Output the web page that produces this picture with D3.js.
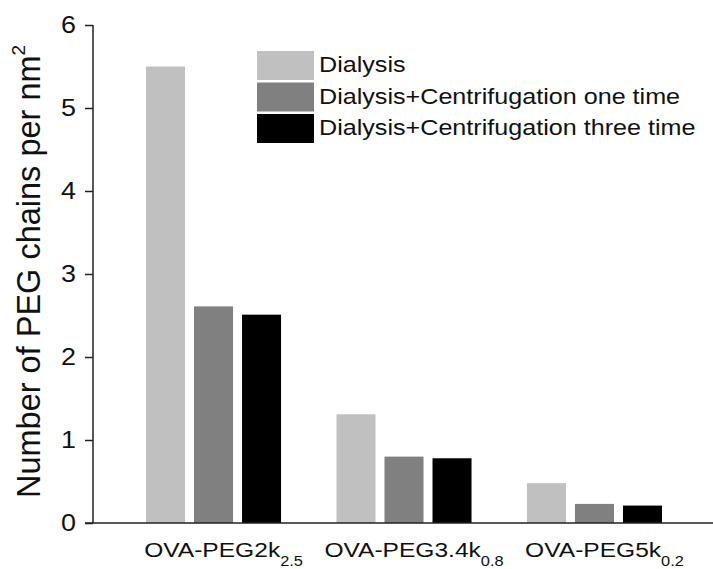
<!DOCTYPE html>
<html>
<head>
<meta charset="utf-8">
<script src="https://cdn.jsdelivr.net/npm/d3@7"></script>
<style>
  body { margin: 0; background: #fff; }
  svg { display: block; font-family: Arial, "Liberation Sans", sans-serif; }
</style>
</head>
<body>
<svg></svg>
<script>
// data
var groups = ["OVA-PEG2k", "OVA-PEG3.4k", "OVA-PEG5k"];
var groupSubs = ["2.5", "0.8", "0.2"];
var series = ["Dialysis", "Dialysis+Centrifugation one time", "Dialysis+Centrifugation three time"];
var dialysis = [5.50, 1.31, 0.48];
var centOnce = [2.61, 0.80, 0.23];
var centThree = [2.51, 0.78, 0.21];
var colors = ["#c0c0c0", "#808080", "#000000"];
var yTicks = [0, 1, 2, 3, 4, 5, 6];

var width = 713, height = 569;
var sx = 1.17; // the original text looks a bit wide, stretch it
var svg = d3.select("svg").attr("width", width).attr("height", height);

var values = [dialysis, centOnce, centThree];

// scales
var yScale = d3.scaleLinear().domain([0, 6]).range([523, 25]);

var x0 = d3.scaleBand()
    .domain(groups)
    .range([118, 690])
    .paddingInner(0.291)
    .paddingOuter(0.147);

var x1 = d3.scaleBand()
    .domain(series)
    .range([0, x0.bandwidth()])
    .paddingInner(0.1875)
    .paddingOuter(0);

// bars
var g = svg.selectAll("g.group")
    .data(groups)
    .enter()
    .append("g")
    .attr("class", "group")
    .attr("transform", function(d) { return "translate(" + x0(d) + ",0)"; });

g.selectAll("rect")
    .data(function(d, i) {
        return series.map(function(s, j) { return { s: s, v: values[j][i], c: colors[j] }; });
    })
    .enter()
    .append("rect")
    .attr("x", function(d) { return x1(d.s); })
    .attr("y", function(d) { return yScale(d.v); })
    .attr("width", x1.bandwidth())
    .attr("height", function(d) { return yScale(0) - yScale(d.v); })
    .attr("fill", function(d) { return d.c; });

// y axis
var yAxis = d3.axisLeft(yScale)
    .tickValues(yTicks)
    .tickFormat(d3.format("d"))
    .tickSize(8)
    .tickPadding(6.5);

var ya = svg.append("g")
    .attr("transform", "translate(93,0)")
    .call(yAxis);
ya.select(".domain").attr("d", "M0," + yScale(6) + "V" + yScale(0));
ya.selectAll("line, path").attr("stroke", "#222").attr("stroke-width", 1.5);
ya.selectAll("text")
    .attr("font-size", 23)
    .attr("fill", "#111")
    .attr("font-family", "Arial, 'Liberation Sans', sans-serif")
    .attr("transform", "scale(" + sx + ",1)");

// x axis baseline
svg.append("line")
    .attr("x1", 85).attr("x2", 713)
    .attr("y1", yScale(0)).attr("y2", yScale(0))
    .attr("stroke", "#222").attr("stroke-width", 1.5);

// x labels with subscripts
var xl = svg.selectAll("text.xlab")
    .data(groups)
    .enter()
    .append("text")
    .attr("class", "xlab")
    .attr("transform", function(d) {
        return "translate(" + (x0(d) + x0.bandwidth() / 2 + 10) + ",557) scale(" + sx + ",1)";
    })
    .attr("text-anchor", "middle")
    .attr("font-size", 21)
    .attr("fill", "#111");
xl.append("tspan").text(function(d) { return d; });
xl.append("tspan")
    .attr("font-size", 14)
    .attr("dy", 9)
    .text(function(d, i) { return groupSubs[i]; });

// y title
var yt = svg.append("text")
    .attr("transform", "translate(40,498) rotate(-90)")
    .attr("text-anchor", "start")
    .attr("font-size", 32.5)
    .attr("fill", "#111");
yt.append("tspan").text("Number of PEG chains per nm");
yt.append("tspan").attr("font-size", 19).attr("dy", -15).text("2");

// legend
var legend = svg.selectAll("g.legend")
    .data(series)
    .enter()
    .append("g")
    .attr("class", "legend")
    .attr("transform", function(d, i) { return "translate(257," + (51 + i * 31.5) + ")"; });

legend.append("rect")
    .attr("width", 57)
    .attr("height", 29)
    .attr("fill", function(d, i) { return colors[i]; });

legend.append("text")
    .attr("transform", "translate(62,21) scale(" + sx + ",1)")
    .attr("font-size", 21.5)
    .attr("fill", "#111")
    .text(function(d) { return d; });
</script>
</body>
</html>
